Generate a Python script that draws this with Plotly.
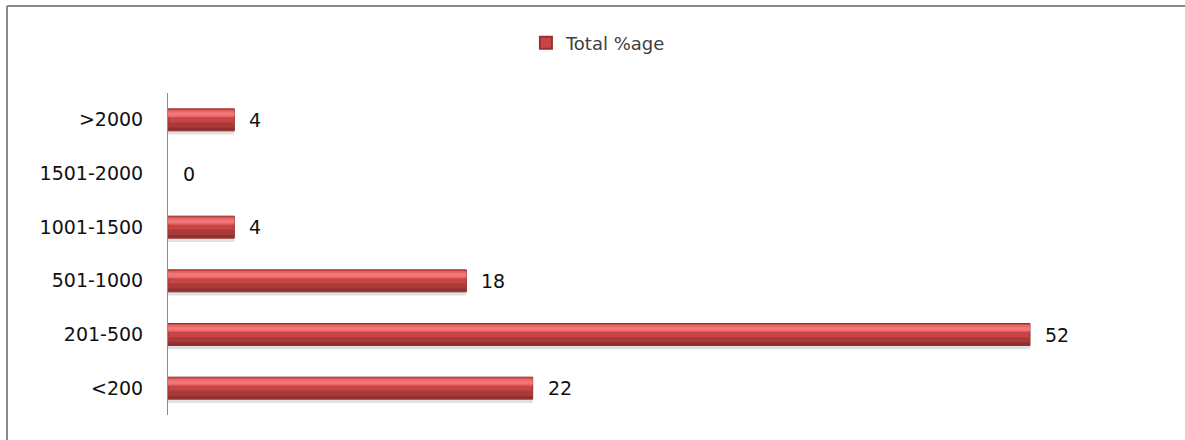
import plotly.graph_objects as go

categories = ["<200", "201-500", "501-1000", "1001-1500", "1501-2000", ">2000"]
values = [22, 52, 18, 4, 0, 4]
series_name = "Total %age"

W, H = 1185, 440
ML, MR, MT, MB = 168, 22, 93, 25
plot_w = W - ML - MR
plot_h = H - MT - MB
xmax = plot_w / (862 / 52)

edge_w = [1 if v > 0 else 0 for v in values]

fig = go.Figure()
bw = 0.41


def layer(offset, width, color, **kw):
    fig.add_trace(go.Bar(y=categories, x=values, orientation="h", width=width, offset=offset,
                         marker=dict(color=color, line=dict(width=0)),
                         showlegend=False, hoverinfo="skip", **kw))


# shadow
layer(-bw / 2 - 0.07, bw, "rgba(0,0,0,0.12)")
# main body
fig.add_trace(go.Bar(y=categories, x=values, orientation="h", width=bw, offset=-bw / 2,
                     name=series_name,
                     marker=dict(color="#c94545", line=dict(color="#963030", width=edge_w)),
                     showlegend=True))
layer(-bw / 2 + 0.01, 0.15, "#aa3a3a")
layer(-bw / 2 + 0.01, 0.05, "#8e3030")
layer(0.05, 0.13, "#e86868")
layer(0.08, 0.06, "#f27878")

for c, v in zip(categories, values):
    fig.add_annotation(x=v, y=c, text=str(v), showarrow=False, xanchor="left", xshift=13,
                       font=dict(family="DejaVu Sans", size=19, color="#111111"))

fig.update_layout(
    width=W, height=H,
    margin=dict(l=ML, r=MR, t=MT, b=MB),
    barmode="overlay",
    plot_bgcolor="white", paper_bgcolor="white",
    showlegend=True,
    legend=dict(orientation="h", xref="container", yref="container", x=0.505, y=1 - 43 / H,
                xanchor="center", yanchor="middle",
                font=dict(family="DejaVu Sans", size=18, color="#404040"),
                itemsizing="constant"),
    xaxis=dict(range=[0, xmax], visible=False, showgrid=False, zeroline=False),
    yaxis=dict(categoryorder="array", categoryarray=categories, showgrid=False,
               showline=True, linecolor="#8a8a8a", linewidth=1, ticks="",
               ticklabelstandoff=20,
               tickfont=dict(family="DejaVu Sans", size=19, color="#111111")),
    shapes=[
        dict(type="line", xref="paper", yref="paper",
             x0=(7 - ML) / plot_w, x1=(7 - ML) / plot_w,
             y0=(H - MB - 6) / plot_h, y1=-(MB + 5) / plot_h,
             line=dict(color="#8a8a8a", width=2)),
        dict(type="line", xref="paper", yref="paper",
             x0=(7 - ML) / plot_w, x1=(W + 5 - ML) / plot_w,
             y0=(H - MB - 6) / plot_h, y1=(H - MB - 6) / plot_h,
             line=dict(color="#8a8a8a", width=2)),
    ],
)

fig.write_html("out.html", config={"displayModeBar": False},
               post_script="document.body.style.margin='0';document.body.style.overflow='hidden';")
